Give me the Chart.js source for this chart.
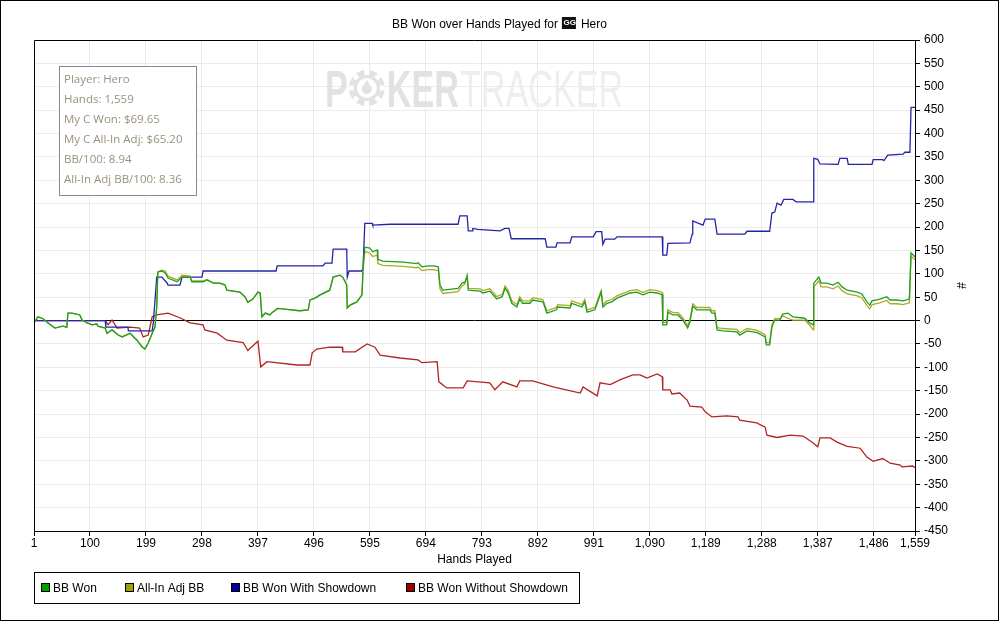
<!DOCTYPE html>
<html>
<head>
<meta charset="utf-8">
<script src="https://cdn.jsdelivr.net/npm/chart.js@4.4.1/dist/chart.umd.min.js"></script>
<style>
html, body { margin: 0; padding: 0; background: #fff; }
canvas { display: block; }
</style>
</head>
<body>
<canvas id="bb-chart" width="999" height="621"></canvas>
<script>
// x ticks (hand numbers) shown on the axis
const xTicks = [1, 100, 199, 298, 397, 496, 595, 694, 793, 892, 991, 1090, 1189, 1288, 1387, 1486, 1559];

// BB Won (green) and All-In Adj BB (olive) share the same hand positions
const wonHands = [1,8,17,26,38,52,59,61,68,82,86,95,104,112,114,127,130,139,150,157,171,183,192,197,203,210,215,218,220,227,
  233,238,254,263,277,280,300,307,318,330,339,342,365,374,379,388,397,401,404,410,418,423,432,448,471,486,489,498,507,524,
  530,542,547,554,555,560,572,581,583,586,595,600,608,609,618,654,678,680,687,698,707,716,719,724,751,758,763,767,769,790,
  795,807,816,819,829,834,839,846,855,860,865,878,883,901,908,925,927,949,952,970,975,979,993,998,1004,1007,1014,1023,1032,1055,
  1067,1078,1090,1103,1112,1113,1120,1122,1131,1140,1149,1157,1161,1166,1173,1196,1200,1205,1209,1220,
  1244,1249,1262,1280,1294,1296,1302,1306,1311,1320,1325,1334,1343,1364,1373,1379,1380,1389,1393,1403,
  1414,1423,1430,1439,1457,1465,1474,1479,1483,1497,1509,1515,1527,1538,1549,1552,1559];
const bbWon = [-5,8,4,-5,-16,-12,-14,16,16,12,1,-5,-9,-7,-12,-16,-27,-20,-31,-35,-27,-42,-56,-61,-48,-27,-14,29,104,106,
  102,91,83,93,93,83,83,87,80,80,76,65,61,51,39,46,61,59,8,16,12,18,26,24,21,23,44,48,55,65,
  93,97,93,76,27,33,40,55,115,157,155,147,151,131,127,125,122,124,115,117,117,115,76,65,69,80,82,95,65,63,
  59,63,51,46,51,69,61,37,29,46,37,37,44,40,16,23,29,27,37,29,40,18,23,40,61,29,37,40,48,59,
  61,55,61,59,55,-9,-9,18,12,12,0,-16,-3,31,23,23,16,16,-20,-22,
  -24,-31,-22,-26,-35,-52,-52,-14,1,1,14,16,8,5,-5,-9,80,93,80,80,
  76,82,72,65,61,57,40,33,42,46,51,44,44,42,46,145,136];
const allInAdjBB = [-5,8,4,-5,-16,-12,-14,16,16,12,1,-5,-9,-7,-12,-16,-27,-20,-31,-35,-27,-42,-56,-61,-48,-27,-14,29,104,108,
  106,95,87,97,95,85,85,88,80,80,76,65,61,51,39,46,61,59,8,16,12,18,26,24,21,23,44,48,55,65,
  93,97,93,76,27,33,40,55,108,148,144,137,140,122,118,116,113,115,107,109,109,107,68,58,62,74,78,97,69,68,
  64,68,56,51,56,74,66,42,34,51,42,42,49,45,21,28,34,32,42,34,45,23,28,45,64,34,42,45,53,64,
  66,60,66,64,60,-4,-4,23,17,17,5,-11,2,36,28,28,21,21,-15,-17,
  -19,-26,-17,-21,-30,-47,-47,-9,4,4,10,5,1,1,-10,-20,72,85,72,72,
  68,74,64,57,53,49,32,25,34,38,43,36,36,34,38,138,130];

// BB Won With Showdown (blue)
const sdHands = [1,127,128,167,168,210,212,218,227,236,238,259,263,298,300,429,431,512,516,528,530,554,555,558,581,
  583,586,599,600,631,751,754,767,769,776,777,786,825,834,841,845,905,908,924,926,949,952,990,995,1005,
  1007,1011,1028,1032,1112,1113,1120,1122,1161,1165,1166,1184,1188,1205,1209,1258,1262,1302,1306,1311,
  1315,1322,1327,1343,1349,1379,1380,1387,1391,1423,1426,1439,1441,1483,1485,1502,1504,1511,1538,1541,1550,1552,1559];
const bbWithSD = [0,0,-14,-14,-22,-22,-5,93,93,81,76,76,93,93,106,106,117,117,123,123,153,153,93,106,106,
  115,208,208,204,206,206,224,224,192,192,197,195,192,197,197,175,175,157,157,166,166,179,179,190,190,
  163,174,174,179,179,140,140,165,166,185,213,204,217,217,185,185,191,191,230,232,
  251,247,259,259,254,254,347,345,335,334,347,347,334,334,344,344,342,354,356,360,360,456,456];

// BB Won Without Showdown (red)
const nsdHands = [1,127,132,139,148,171,188,194,203,210,218,238,259,277,300,303,325,342,371,379,397,402,413,466,489,
  493,501,524,546,547,569,590,604,613,648,680,687,714,717,731,760,767,807,816,830,855,860,883,919,967,
  972,997,1002,1020,1037,1060,1073,1085,1103,1112,1113,1126,1129,1143,1156,1161,1182,1188,1200,1226,
  1246,1249,1279,1294,1297,1315,1338,1361,1379,1387,1391,1409,1421,1439,1462,1474,1485,1502,1515,1533,1536,1555,1559];
const bbWithoutSD = [0,0,-9,1,-16,-14,-16,-35,-31,8,12,16,6,-5,-9,-20,-27,-42,-47,-64,-44,-99,-88,-95,-95,
  -69,-61,-57,-57,-67,-67,-50,-57,-74,-80,-84,-90,-88,-131,-144,-144,-129,-133,-148,-131,-142,-129,-129,-142,-155,
  -142,-161,-133,-137,-127,-116,-116,-123,-114,-120,-148,-148,-157,-155,-170,-183,-185,-195,-206,-204,
  -206,-213,-219,-228,-245,-250,-245,-247,-262,-270,-251,-251,-260,-269,-273,-292,-301,-295,-305,-309,-313,-311,-315];

const seriesNames = ['BB Won', 'All-In Adj BB', 'BB Won With Showdown', 'BB Won Without Showdown'];
const lineColors = ['#1f9f1f', '#b2a826', '#2424a8', '#b22424'];
const legendColors = ['#00a000', '#a0a000', '#0000a0', '#a00000'];

const infoLines = ['Player: Hero', 'Hands: 1,559', 'My C Won: $69.65', 'My C All-In Adj: $65.20', 'BB/100: 8.94', 'All-In Adj BB/100: 8.36'];

const FONT = "'Liberation Sans', Arial, sans-serif";

function pairs(xs, ys) {
  return xs.map((x, i) => ({ x: x, y: ys[i] }));
}

const chrome = {
  id: 'chrome',
  beforeDatasetsDraw(chart) {
    // faint POKERTRACKER watermark
    const ctx = chart.ctx;
    ctx.save();
    ctx.textBaseline = 'alphabetic';
    ctx.font = "bold 51px " + FONT;
    const sx = 0.67;
    let x = 325;
    const base = 107;
    ctx.fillStyle = '#e2e2e2';
    ctx.save(); ctx.translate(x, base); ctx.scale(sx, 1); ctx.fillText('P', 0, 0); ctx.restore();
    x += ctx.measureText('P').width * sx + 1;
    const cx = x + 18, cy = 88;
    ctx.beginPath(); ctx.arc(cx, cy, 18, 0, Math.PI * 2); ctx.fill();
    ctx.fillStyle = '#fff';
    for (let i = 0; i < 8; i++) {
      ctx.save(); ctx.translate(cx, cy); ctx.rotate(i * Math.PI / 4);
      ctx.fillRect(-2.5, -18, 5, 5);
      ctx.restore();
    }
    ctx.beginPath(); ctx.arc(cx, cy, 10, 0, Math.PI * 2); ctx.fill();
    ctx.fillStyle = '#e2e2e2';
    ctx.beginPath(); ctx.arc(cx, cy + 1, 5, 0, Math.PI * 2); ctx.fill();
    ctx.beginPath(); ctx.moveTo(cx, cy - 8); ctx.lineTo(cx - 5, cy); ctx.lineTo(cx + 5, cy); ctx.fill();
    x = cx + 20;
    ctx.save(); ctx.translate(x, base); ctx.scale(sx, 1); ctx.fillText('KER', 0, 0); ctx.restore();
    x += ctx.measureText('KER').width * sx + 1;
    ctx.font = "51px " + FONT;
    ctx.fillStyle = '#eeeeee';
    ctx.save(); ctx.translate(x, base); ctx.scale(sx, 1); ctx.fillText('TRACKER', 0, 0); ctx.restore();
    ctx.restore();
  },
  afterDatasetsDraw(chart) {
    const ctx = chart.ctx;
    const a = chart.chartArea;
    ctx.save();
    // frame on top / left
    ctx.strokeStyle = '#000';
    ctx.lineWidth = 1;
    ctx.beginPath();
    ctx.moveTo(Math.round(a.left) + 0.5, Math.round(a.bottom));
    ctx.lineTo(Math.round(a.left) + 0.5, Math.round(a.top) + 0.5);
    ctx.lineTo(Math.round(a.right), Math.round(a.top) + 0.5);
    ctx.stroke();

    // info box
    ctx.fillStyle = '#fff';
    ctx.fillRect(60, 66, 136, 129);
    ctx.strokeStyle = '#8a8a8a';
    ctx.strokeRect(59.5, 66.5, 137, 129);
    ctx.fillStyle = '#9a907f';
    ctx.font = "11.5px 'Open Sans', sans-serif";
    ctx.textBaseline = 'alphabetic';
    infoLines.forEach((t, i) => ctx.fillText(t, 64, 83 + i * 20));
    ctx.restore();
  },
  afterDraw(chart) {
    const ctx = chart.ctx;
    ctx.save();
    // title with site icon
    ctx.font = '12px ' + FONT;
    ctx.fillStyle = '#000';
    ctx.textBaseline = 'alphabetic';
    const t1 = 'BB Won over Hands Played for';
    const t2 = 'Hero';
    const w1 = ctx.measureText(t1).width;
    const w2 = ctx.measureText(t2).width;
    const total = w1 + 4 + 14 + 5 + w2;
    let x = 499.5 - total / 2;
    ctx.fillText(t1, x, 28);
    x += w1 + 4;
    ctx.fillStyle = '#111';
    ctx.fillRect(x, 17, 14, 12);
    ctx.fillStyle = '#fff';
    ctx.font = 'bold 8px ' + FONT;
    ctx.fillText('GG', x + 1.5, 25);
    ctx.fillStyle = '#000';
    ctx.font = '12px ' + FONT;
    x += 14 + 5;
    ctx.fillText(t2, x, 28);

    // legend
    ctx.strokeStyle = '#000';
    ctx.lineWidth = 1;
    ctx.strokeRect(34.5, 572.5, 545, 31);
    const legX = [41, 125, 231, 406];
    seriesNames.forEach((name, i) => {
      ctx.fillStyle = legendColors[i];
      ctx.fillRect(legX[i], 583, 9, 9);
      ctx.strokeRect(legX[i] + 0.5, 583.5, 8, 8);
      ctx.fillStyle = '#000';
      ctx.fillText(name, legX[i] + 12, 592);
    });

    // outer border
    ctx.strokeRect(0.5, 0.5, 998, 620);
    ctx.restore();
  }
};

const datasets = [
  { label: seriesNames[0], data: pairs(wonHands, bbWon) },
  { label: seriesNames[1], data: pairs(wonHands, allInAdjBB) },
  { label: seriesNames[2], data: pairs(sdHands, bbWithSD) },
  { label: seriesNames[3], data: pairs(nsdHands, bbWithoutSD) }
].map((d, i) => Object.assign(d, {
  borderColor: lineColors[i],
  backgroundColor: lineColors[i],
  borderWidth: 1.3,
  pointRadius: 0,
  tension: 0,
  fill: false
}));

new Chart(document.getElementById('bb-chart'), {
  type: 'line',
  data: { datasets: datasets },
  options: {
    responsive: false,
    devicePixelRatio: 1,
    animation: false,
    layout: { padding: { left: 34, top: 40, right: 0, bottom: 50 } },
    plugins: { legend: { display: false }, tooltip: { enabled: false }, title: { display: false } },
    scales: {
      x: {
        type: 'linear',
        min: 1,
        max: 1559,
        afterBuildTicks: (axis) => { axis.ticks = xTicks.map(v => ({ value: v })); },
        afterFit: (axis) => { axis.height = 40; },
        ticks: {
          autoSkip: false,
          maxRotation: 0,
          padding: 0,
          color: '#000',
          font: { family: FONT, size: 12 },
          callback: (v) => Number(v).toLocaleString('en-US')
        },
        grid: { color: '#ebebeb', tickColor: '#000', tickLength: 5 },
        border: { color: '#000' },
        title: { display: true, text: 'Hands Played', color: '#000', font: { family: FONT, size: 12 }, padding: { top: 0, bottom: 4 } }
      },
      y: {
        position: 'right',
        min: -450,
        max: 600,
        afterFit: (axis) => { axis.width = 84; },
        ticks: {
          stepSize: 50,
          padding: 4,
          color: '#000',
          font: { family: FONT, size: 12 }
        },
        grid: {
          color: (c) => (c.tick && c.tick.value === 0 ? '#000' : '#ebebeb'),
          tickColor: '#000',
          tickLength: 5
        },
        border: { color: '#000' },
        title: { display: true, text: '#', color: '#000', font: { family: FONT, size: 12 }, padding: { top: 31, bottom: 0 } }
      }
    }
  },
  plugins: [chrome]
});
</script>
</body>
</html>
